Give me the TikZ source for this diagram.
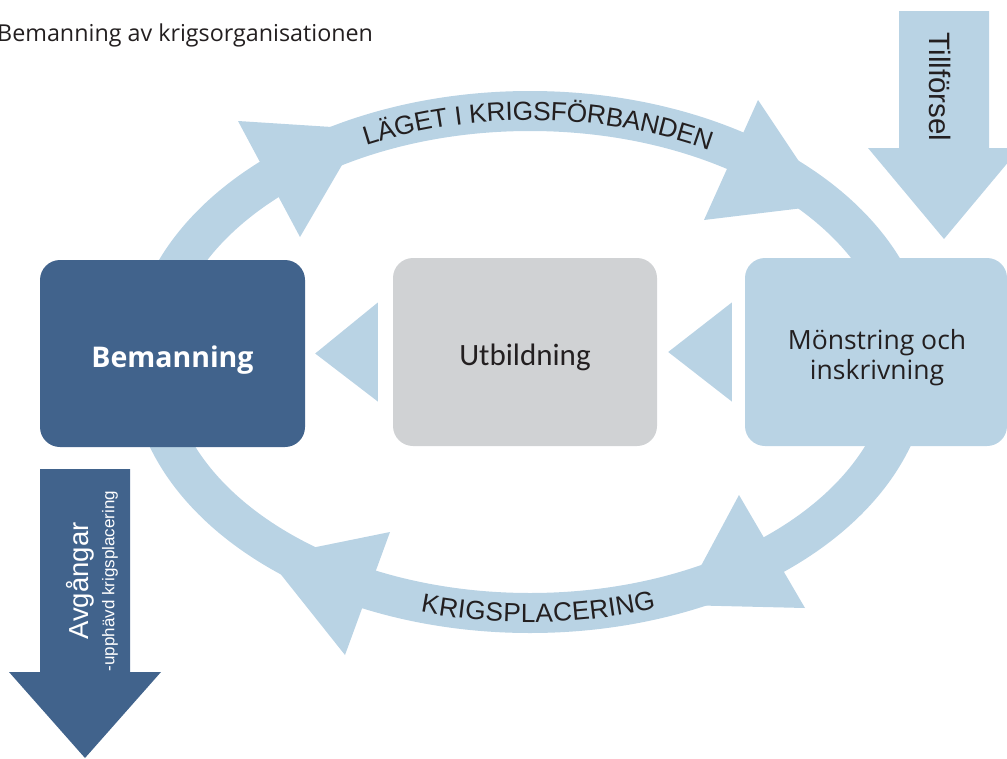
\documentclass[tikz,border=0pt]{standalone}
\usepackage{fontspec}
\usetikzlibrary{decorations.text,calc}
\newfontfamily\arcfont{Liberation Sans}
\newfontfamily\calfont{Carlito}
\newfontfamily\openfont{Open Sans}
\definecolor{bandblue}{HTML}{B9D3E4}
\definecolor{darkblue}{HTML}{41638C}
\definecolor{boxgrey}{HTML}{D0D2D4}
\definecolor{inkdark}{HTML}{231F20}
\begin{document}
\begin{tikzpicture}[x=1pt,y=1pt,
  boxstyle/.style={rounded corners=20pt, minimum height=188pt, inner sep=0pt},
  labelstyle/.style={anchor=base, inner sep=0pt},
  headstyle/.style={fill=bandblue},
  arctext/.style={decorate, decoration={text along path, text align=center, raise=-9.3pt, text={|\arcfont\fontsize{26.3}{30}\selectfont\color{inkdark}|#1}}}
]
\useasboundingbox (0,0) rectangle (1007,-758);

% ring band
\draw[bandblue, line width=40pt] (530,-362) ellipse [x radius=380pt, y radius=251pt];

% arrow heads on the ring
\fill[headstyle] (238,-121) -- (300,-237) -- (363,-129) -- cycle;
\fill[headstyle] (758,-100) -- (704,-220) -- (828,-205) -- cycle;
\fill[headstyle] (739,-495) -- (805,-608) -- (680,-605) -- cycle;
\fill[headstyle] (390,-532) -- (345,-655) -- (267,-557) -- cycle;

% ring labels
\path[arctext={LÄGET I KRIGSFÖRBANDEN}] (530,-362) ++(160:380pt and 251pt)
  arc[start angle=160, end angle=16.4, x radius=380pt, y radius=251pt];
\path[arctext={KRIGSPLACERING}] (530,-362) ++(200:380pt and 251pt)
  arc[start angle=200, end angle=343.6, x radius=380pt, y radius=251pt];

% boxes
\node[boxstyle, fill=darkblue, minimum width=265pt, minimum height=187pt] (beman) at (172.5,-353.5) {};
\node[boxstyle, fill=boxgrey, minimum width=264pt] (utb) at (525,-352) {};
\node[boxstyle, fill=bandblue, minimum width=262pt] (monst) at (876,-352) {};

% box texts
\node[labelstyle, font=\openfont\bfseries\fontsize{28.5}{34}\selectfont, text=white] (bemantext) at (172.5,-367) {Bemanning};
\node[labelstyle, font=\calfont\fontsize{31}{36}\selectfont, text=inkdark] (utbtext) at (525,-365) {Utbildning};
\node[labelstyle, font=\openfont\fontsize{26.5}{30}\selectfont, text=inkdark] (monsttext1) at (877,-349) {Mönstring och};
\node[labelstyle, font=\openfont\fontsize{26.5}{30}\selectfont, text=inkdark] (monsttext2) at (877,-379) {inskrivning};

% triangles between boxes
\fill[headstyle] ([xshift=-15pt,yshift=49.5pt]utb.west) -- ([xshift=-15pt,yshift=-49.5pt]utb.west) -- ([xshift=10pt]beman.east) -- cycle;
\fill[headstyle] ([xshift=-13pt,yshift=49.5pt]monst.west) -- ([xshift=-13pt,yshift=-49.5pt]monst.west) -- ([xshift=11pt]utb.east) -- cycle;

% Tillförsel arrow
\fill[bandblue] (899,-11) -- (989,-11) -- (989,-148) -- (1020,-148) -- (944,-239) -- (868,-148) -- (899,-148) -- cycle;
\node[rotate=-90, inner sep=0pt] (till) at (940.5,-87)
  {\arcfont\fontsize{29.5}{34}\selectfont\color{inkdark}Tillförsel};

% Avgångar arrow
\fill[darkblue] (40,-469) -- (130,-469) -- (130,-672) -- (161,-672) -- (85,-758) -- (9,-672) -- (40,-672) -- cycle;
\node[rotate=90, inner sep=0pt] (avg) at (80,-581)
  {\arcfont\fontsize{27.5}{32}\selectfont\color{white}Avgångar};
\node[rotate=90, inner sep=0pt] (avgsub) at (110,-581)
  {\arcfont\fontsize{17}{20}\selectfont\color{white}-upphävd krigsplacering};

% title
\node[anchor=base west, inner sep=0pt] (title) at (-3,-41.7)
  {\openfont\fontsize{23.3}{27}\selectfont\color{inkdark}Bemanning av krigsorganisationen};
\end{tikzpicture}
\end{document}
